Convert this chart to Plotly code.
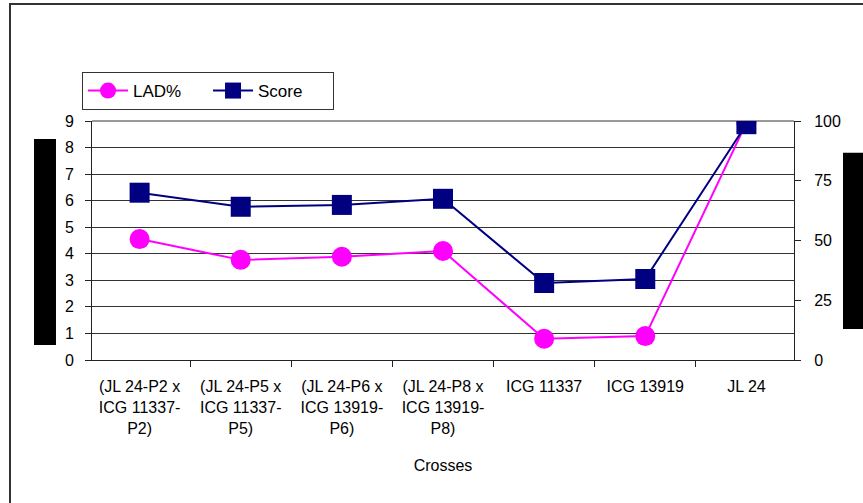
import plotly.graph_objects as go

categories = [
    "(JL 24-P2 x<br>ICG 11337-<br>P2)",
    "(JL 24-P5 x<br>ICG 11337-<br>P5)",
    "(JL 24-P6 x<br>ICG 13919-<br>P6)",
    "(JL 24-P8 x<br>ICG 13919-<br>P8)",
    "ICG 11337",
    "ICG 13919",
    "JL 24",
]
lad_pct = [50.6, 41.9, 43.2, 45.6, 8.9, 10.0, 99.2]
score = [6.3, 5.77, 5.84, 6.07, 2.9, 3.05, 8.88]
left_ticks = [0, 1, 2, 3, 4, 5, 6, 7, 8, 9]
right_ticks = [0, 25, 50, 75, 100]

FONT = "Liberation Sans, Arial, sans-serif"

fig = go.Figure()
fig.add_trace(go.Scatter(
    x=categories, y=lad_pct, name="LAD%", mode="lines+markers",
    line=dict(color="#FF00FF", width=2),
    marker=dict(symbol="circle", size=20, color="#FF00FF"),
    yaxis="y",
))
fig.add_trace(go.Scatter(
    x=categories, y=score, name="Score", mode="lines+markers",
    line=dict(color="#000080", width=2),
    marker=dict(symbol="square", size=20, color="#000080"),
    yaxis="y2",
))

fig.update_layout(
    width=863, height=503,
    margin=dict(l=92, r=69, t=121, b=143),
    paper_bgcolor="white", plot_bgcolor="white",
    font=dict(family=FONT, size=15, color="black"),
    showlegend=True,
    legend=dict(
        orientation="h", x=-0.0142, y=1.205, xanchor="left", yanchor="top",
        bordercolor="#333", borderwidth=1, bgcolor="white",
        font=dict(family=FONT, size=17, color="black"),
        itemwidth=40, tracegroupgap=0,
        entrywidth=70, entrywidthmode="pixels",
    ),
    xaxis=dict(
        type="category", tickson="boundaries", ticks="outside", ticklen=6,
        tickcolor="#222", showline=True, linecolor="#222", linewidth=1,
        showgrid=False, zeroline=False, ticklabelstandoff=12,
        tickfont=dict(family=FONT, size=16, color="black"),
        title=dict(text="Crosses", font=dict(family=FONT, size=16, color="black"), standoff=24),
    ),
    yaxis=dict(
        side="right", range=[0, 100], tickvals=right_ticks,
        ticks="outside", ticklen=6, tickcolor="#222",
        showline=True, linecolor="#222", linewidth=1,
        showgrid=False, zeroline=False, ticklabelstandoff=10,
        tickfont=dict(family=FONT, size=16, color="black"),
    ),
    yaxis2=dict(
        overlaying="y", side="left", range=[0, 9], tickvals=left_ticks,
        ticks="outside", ticklen=6, tickcolor="#222",
        showline=True, linecolor="#222", linewidth=1,
        showgrid=True, gridcolor="#333", gridwidth=1, zeroline=False,
        ticklabelstandoff=8,
        tickfont=dict(family=FONT, size=16, color="black"),
    ),
    shapes=[
        dict(type="rect", xref="paper", yref="paper", x0=-0.1168, x1=1.3, y0=-1.0, y1=1.4895,
             line=dict(color="#333", width=2), fillcolor="rgba(0,0,0,0)", layer="below"),
        dict(type="line", xref="paper", yref="paper", x0=0, x1=1, y0=1, y1=1,
             line=dict(color="#999", width=2), layer="below"),
        dict(type="rect", xref="paper", yref="paper", x0=-0.0826, x1=-0.0513, y0=0.0628, y1=0.9247,
             line=dict(width=0), fillcolor="black"),
        dict(type="rect", xref="paper", yref="paper", x0=1.0698, x1=1.12, y0=0.1297, y1=0.8674,
             line=dict(width=0), fillcolor="black"),
    ],
)

fig.write_html("out.html", config={"displayModeBar": False})
with open("out.html", "r", encoding="utf-8") as f:
    html = f.read()
html = html.replace("<body>", '<body style="margin:0;padding:0;">', 1)
html = html.replace("<head>", "<head><style>html,body{margin:0;padding:0;overflow:hidden;}</style>", 1)
with open("out.html", "w", encoding="utf-8") as f:
    f.write(html)
